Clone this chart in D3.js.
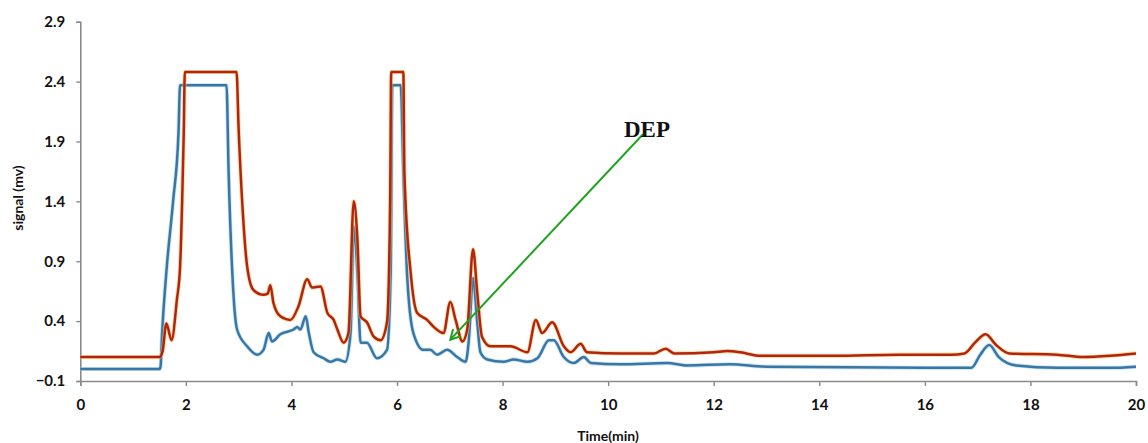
<!DOCTYPE html>
<html><head><meta charset="utf-8">
<script src="https://cdn.jsdelivr.net/npm/d3@7"></script>
<style>body{margin:0;background:#fff}svg{display:block}</style>
</head><body>
<svg id="c" width="1148" height="443"></svg>
<script>
const xTicks = [0,2,4,6,8,10,12,14,16,18,20];
const yTicks = [-0.1,0.4,0.9,1.4,1.9,2.4,2.9];

const redT = [0,0.5,1.0,1.5,1.56,1.63,1.73,1.83,1.89,1.93,1.96,1.98,2.96,3.0,3.08,3.16,3.28,3.47,3.55,3.6,3.66,3.79,3.98,4.13,4.3,4.39,4.55,4.68,4.8,4.87,4.99,5.08,5.18,5.25,5.31,5.43,5.56,5.69,5.81,5.87,5.89,6.12,6.14,6.26,6.38,6.57,6.7,6.88,7.01,7.11,7.24,7.33,7.44,7.52,7.61,7.77,8.15,8.47,8.63,8.75,8.94,9.16,9.29,9.48,9.6,10.24,10.87,11.09,11.25,12.0,12.26,12.5,12.89,14.28,15.5,16.5,16.75,16.95,17.15,17.35,17.6,18.5,19.0,19.5,20];
const redV = [0.10,0.10,0.10,0.10,0.15,0.38,0.24,0.58,0.85,1.41,1.97,2.48,2.48,2.0,1.3,0.86,0.66,0.62,0.63,0.70,0.55,0.44,0.41,0.52,0.75,0.68,0.69,0.47,0.41,0.33,0.22,0.30,1.40,1.08,0.44,0.39,0.27,0.24,0.39,1.4,2.48,2.48,1.64,0.80,0.47,0.41,0.35,0.30,0.56,0.41,0.23,0.33,1.00,0.64,0.27,0.19,0.19,0.14,0.41,0.30,0.39,0.19,0.14,0.21,0.14,0.13,0.13,0.17,0.13,0.14,0.15,0.14,0.11,0.11,0.12,0.12,0.13,0.22,0.29,0.20,0.13,0.12,0.10,0.11,0.13];

const blueT = [0,0.5,1.0,1.5,1.52,1.55,1.64,1.76,1.86,1.89,2.77,2.81,2.88,2.97,3.16,3.35,3.47,3.57,3.63,3.79,4.04,4.11,4.17,4.27,4.33,4.42,4.61,4.74,4.87,5.02,5.12,5.18,5.25,5.31,5.43,5.62,5.81,5.88,5.91,6.07,6.12,6.19,6.31,6.5,6.63,6.76,6.95,7.14,7.3,7.36,7.44,7.52,7.58,7.71,8.02,8.21,8.47,8.66,8.88,8.97,9.16,9.35,9.54,9.67,10.24,11.12,11.5,12.3,13,16.0,16.88,17.05,17.22,17.4,17.73,18.5,19.5,20];
const blueV = [0.0,0.0,0.0,0.0,0.02,0.30,0.86,1.41,1.97,2.37,2.37,1.64,0.80,0.33,0.19,0.12,0.16,0.30,0.23,0.29,0.33,0.35,0.33,0.44,0.30,0.14,0.09,0.06,0.08,0.06,0.30,1.19,0.80,0.22,0.22,0.09,0.16,0.80,2.37,2.37,1.64,0.80,0.30,0.16,0.16,0.12,0.16,0.10,0.06,0.24,0.76,0.39,0.14,0.08,0.06,0.08,0.06,0.09,0.24,0.24,0.10,0.05,0.10,0.05,0.04,0.05,0.03,0.04,0.02,0.01,0.01,0.12,0.20,0.10,0.03,0.01,0.01,0.02];

const annotText = "DEP";
const annotFrom = [10.66, 1.96];
const annotTo = [7.01, 0.245];

const svg = d3.select("#c");
const x = d3.scaleLinear().domain([0,20]).range([80.3,1136]);
const y = d3.scaleLinear().domain([-0.1,2.9]).range([381,21.7]);
const font = "Lato, 'DejaVu Sans', sans-serif";

const ya = svg.append("g").attr("transform","translate(80.3,0)")
  .call(d3.axisLeft(y).tickValues(yTicks).tickSize(4).tickPadding(11).tickFormat(d3.format(".1f")));
const xa = svg.append("g").attr("transform","translate(0,381)")
  .call(d3.axisBottom(x).tickValues(xTicks).tickSize(5).tickPadding(13).tickFormat(d3.format("d")));
[ya,xa].forEach(a=>{
  a.select(".domain").attr("stroke","#8a8a8a").attr("stroke-width",1.6);
  a.selectAll(".tick line").attr("stroke","#8a8a8a").attr("stroke-width",1.4);
  a.selectAll("text").attr("font-family",font).attr("font-weight","bold").attr("font-size",15).attr("fill","#111");
});

svg.append("text").attr("x",608).attr("y",441).attr("text-anchor","middle")
  .attr("font-family",font).attr("font-weight","bold").attr("font-size",14).attr("fill","#111").text("Time(min)");
svg.append("text").attr("transform","translate(23,198) rotate(-90)").attr("text-anchor","middle")
  .attr("font-family",font).attr("font-weight","bold").attr("font-size",14).attr("fill","#111").text("signal (mv)");

const line = d3.line().x(d=>x(d[0])).y(d=>y(d[1])).curve(d3.curveMonotoneX);
const red = redT.map((t,i)=>[t,redV[i]]);
const blue = blueT.map((t,i)=>[t,blueV[i]]);

svg.append("path").datum(blue).attr("d",line).attr("fill","none").attr("stroke","#a9d4ea").attr("stroke-width",4.2).attr("stroke-opacity",0.6);
svg.append("path").datum(blue).attr("d",line).attr("fill","none").attr("stroke","#3a76a4").attr("stroke-width",2.5);
svg.append("path").datum(red).attr("d",line).attr("fill","none").attr("stroke","#f3c46a").attr("stroke-width",4.2).attr("stroke-opacity",0.6);
svg.append("path").datum(red).attr("d",line).attr("fill","none").attr("stroke","#b3240f").attr("stroke-width",2.5);

const x1 = x(annotFrom[0]), y1 = y(annotFrom[1]), x2 = x(annotTo[0]), y2 = y(annotTo[1]);
svg.append("line").attr("x1",x1).attr("y1",y1).attr("x2",x2).attr("y2",y2).attr("stroke","#1fa31f").attr("stroke-width",2);
const ang = Math.atan2(y1-y2, x1-x2), L = 11, spread = 0.5;
const head = [[x2+L*Math.cos(ang+spread), y2+L*Math.sin(ang+spread)],[x2,y2],[x2+L*Math.cos(ang-spread), y2+L*Math.sin(ang-spread)]];
svg.append("path").attr("d",d3.line()(head)).attr("fill","none").attr("stroke","#1fa31f").attr("stroke-width",2);
svg.append("text").attr("x",647).attr("y",137).attr("text-anchor","middle")
  .attr("font-family","'Liberation Serif', 'DejaVu Serif', serif").attr("font-weight","bold").attr("font-size",23).attr("fill","#111").text(annotText);
</script>
</body></html>
